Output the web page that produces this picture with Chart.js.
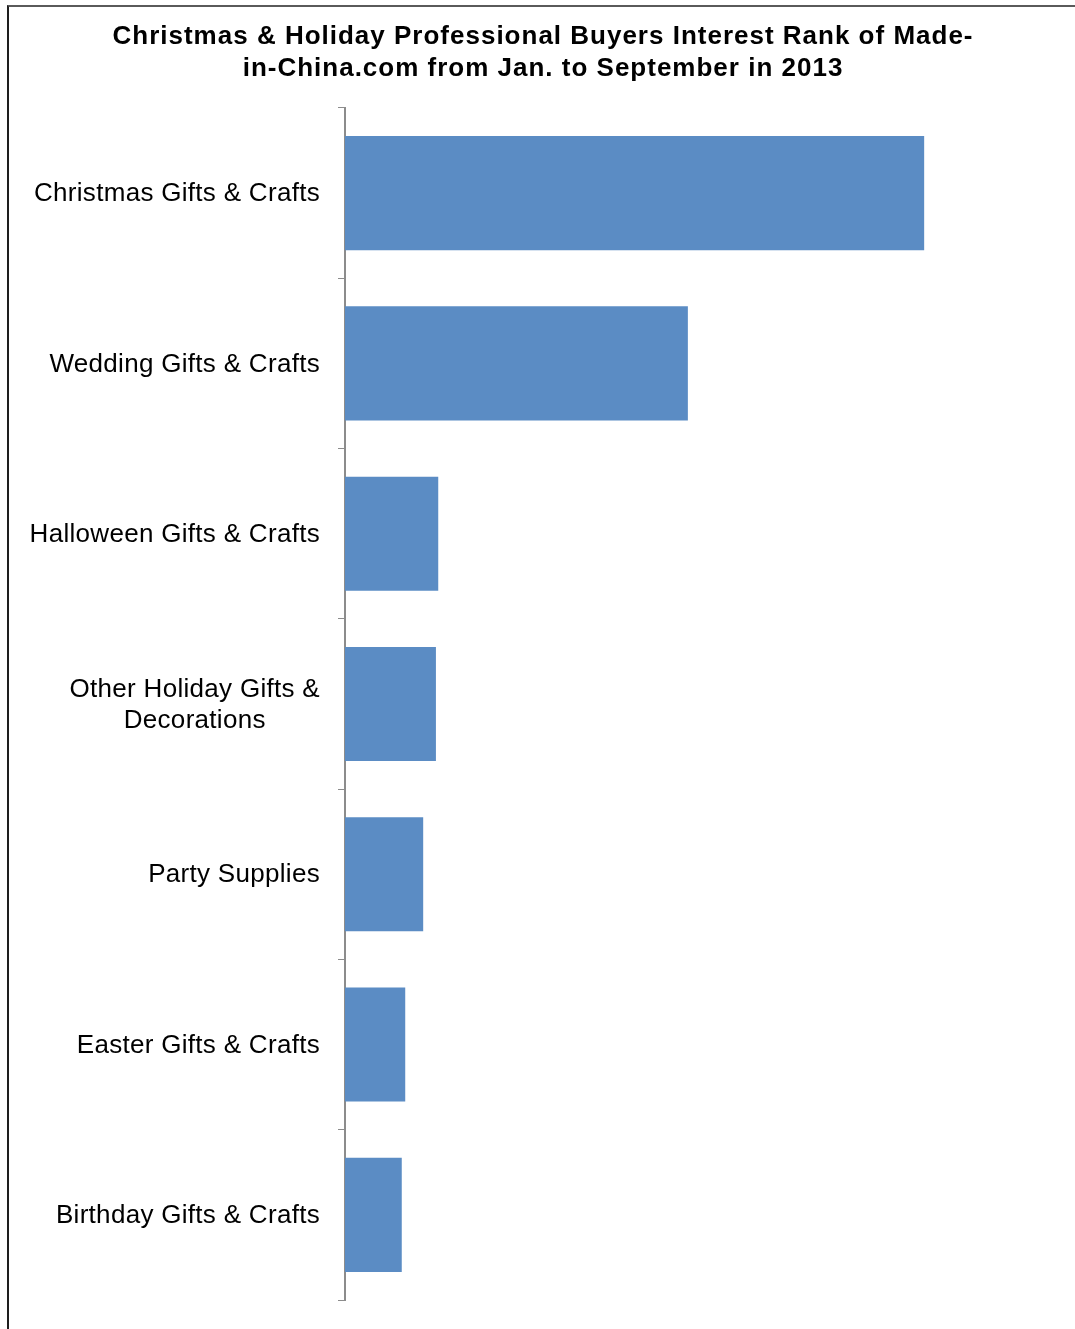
<!DOCTYPE html>
<html>
<head>
<meta charset="utf-8">
<script src="https://cdn.jsdelivr.net/npm/chart.js@4/dist/chart.umd.min.js"></script>
<style>
    html, body { margin: 0; padding: 0; background: #fff; }
    #wrap { position: relative; width: 1075px; height: 1329px; overflow: hidden; }
    #frame {
        position: absolute; left: 7px; top: 5px; width: 1200px; height: 1400px;
        border-left: 2px solid #1e1e1e; border-top: 2px solid #5a5a5a;
        pointer-events: none;
    }
    canvas { position: absolute; left: 0; top: 0; }
</style>
</head>
<body>
<div id="wrap">
    <canvas id="chart" width="1075" height="1329"></canvas>
    <div id="frame"></div>
</div>
<script>
// Categories, top to bottom
const categories = [
    'Christmas Gifts & Crafts',
    'Wedding Gifts & Crafts',
    'Halloween Gifts & Crafts',
    ['Other Holiday Gifts &', 'Decorations'],
    'Party Supplies',
    'Easter Gifts & Crafts',
    'Birthday Gifts & Crafts'
];

// Relative interest (first bar = 100)
const interest = [100, 59.2, 16.1, 15.7, 13.5, 10.4, 9.8];

const titleLines = [
    'Christmas & Holiday Professional Buyers Interest Rank of Made-',
    'in-China.com from Jan. to September in 2013'
];

const labelFont = '26px "Liberation Sans", Arial, sans-serif';

// Wider letter spacing, like the GDI text of the original
const spacing = {
    id: 'spacing',
    beforeDraw(chart) { chart.ctx.letterSpacing = '1px'; },
    afterDraw(chart) { chart.ctx.letterSpacing = '0px'; }
};

// Draws the category labels: right aligned block, multi-line text centred inside it
const categoryLabels = {
    id: 'categoryLabels',
    afterDraw(chart) {
        const ctx = chart.ctx;
        const yScale = chart.scales.y;
        const right = yScale.right - 25;
        ctx.save();
        ctx.letterSpacing = '0.3px';
        ctx.font = labelFont;
        ctx.fillStyle = '#000';
        ctx.textBaseline = 'middle';
        ctx.textAlign = 'center';
        categories.forEach((label, i) => {
            const lines = Array.isArray(label) ? label : [label];
            const blockWidth = Math.max(...lines.map(l => ctx.measureText(l).width));
            const cx = right - blockWidth / 2;
            const cy = yScale.getPixelForTick(i) + 1;
            const lineHeight = 31;
            lines.forEach((line, j) => {
                const y = cy + (j - (lines.length - 1) / 2) * lineHeight;
                ctx.fillText(line, cx, y);
            });
        });
        ctx.restore();
    }
};

const ctx = document.getElementById('chart').getContext('2d');
new Chart(ctx, {
    type: 'bar',
    data: {
        labels: categories,
        datasets: [{
            data: interest,
            backgroundColor: '#5b8cc4',
            borderWidth: 0,
            categoryPercentage: 1,
            barPercentage: 0.67
        }]
    },
    options: {
        indexAxis: 'y',
        responsive: false,
        animation: false,
        layout: {
            padding: { top: 21, right: 35, bottom: 29, left: 46 }
        },
        plugins: {
            legend: { display: false },
            tooltip: { enabled: false },
            title: {
                display: true,
                text: titleLines,
                color: '#000',
                font: { family: '"Liberation Sans", Arial, sans-serif', size: 26, weight: 'bold', lineHeight: 1.23 },
                padding: { top: 0, bottom: 23 }
            }
        },
        scales: {
            x: {
                display: false,
                min: 0,
                max: 120
            },
            y: {
                afterFit(scale) { scale.width = 299; },
                ticks: { display: false },
                grid: {
                    offset: true,
                    drawOnChartArea: false,
                    drawTicks: true,
                    tickLength: 7,
                    color: '#8c8c8c',
                    lineWidth: 1
                },
                border: { display: true, color: '#8c8c8c', width: 2 }
            }
        }
    },
    plugins: [spacing, categoryLabels]
});
</script>
</body>
</html>
